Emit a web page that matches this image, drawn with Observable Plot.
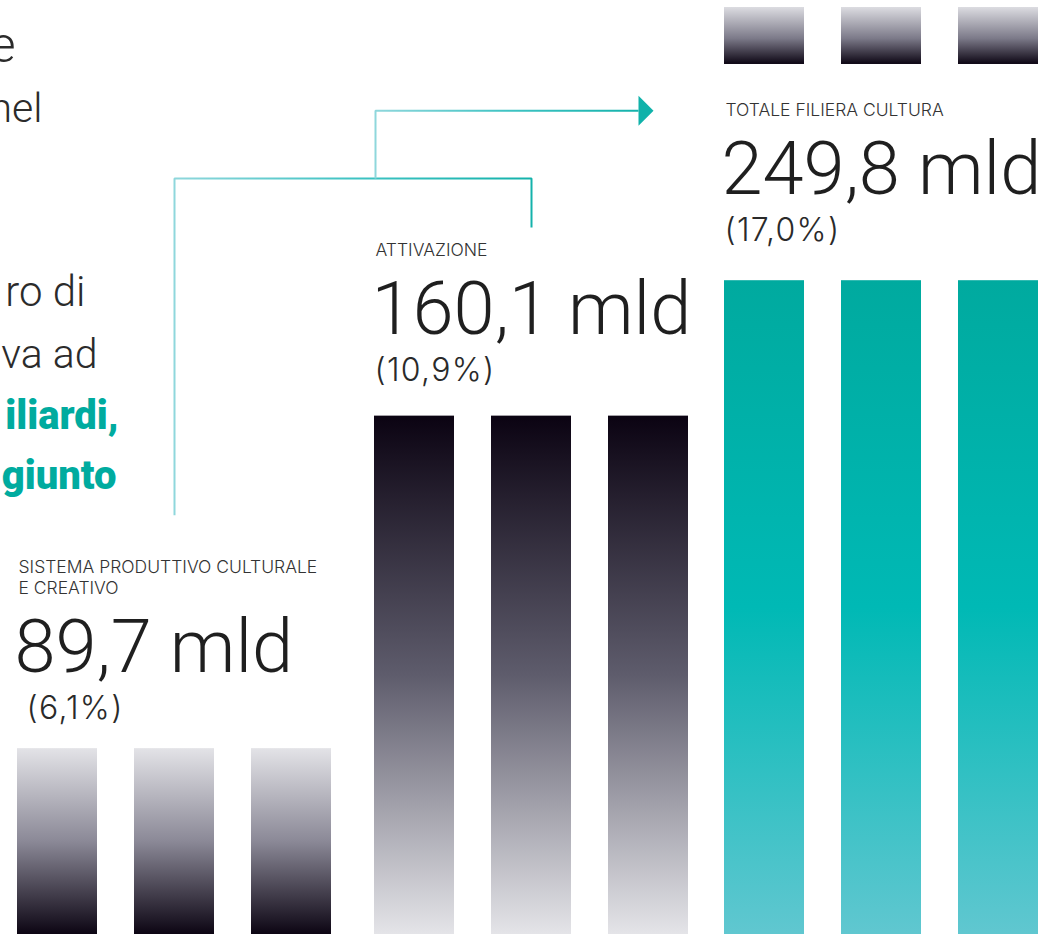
<!DOCTYPE html>
<html>
<head>
<meta charset="utf-8">
<script src="https://cdn.jsdelivr.net/npm/d3@7"></script>
<script src="https://cdn.jsdelivr.net/npm/@observablehq/plot@0.6"></script>
<style>
  html, body { margin: 0; padding: 0; background: #ffffff; overflow: hidden; }
  #chart svg { display: block; }
</style>
</head>
<body>
<div id="chart"></div>
<script>
// ---------- data ----------
const groupNames = ["SISTEMA PRODUTTIVO CULTURALE\nE CREATIVO", "ATTIVAZIONE", "TOTALE FILIERA CULTURA"];
const valueTexts = ["89,7 mld", "160,1 mld", "249,8 mld"];
const shareTexts = ["(6,1%)", "(10,9%)", "(17,0%)"];
// bar heights (display units: % of chart height)
const barHeights = [19.9, 55.5, 70.0];
// upper (grey) segment of the total column, display units
const capBase = [null, null, 93.15];
const capTop = [null, null, 99.25];
const barsPerGroup = 3;
// connector levels (display units)
const connectorLow = 44.9;     // start of the line under the first label
const connectorJoin = 80.95;   // horizontal joining first and second group
const connectorDrop = 75.7;    // end of the drop towards second group
const connectorTop = 88.2;     // arrow line towards total
// fragments of the body text at the left (cropped)
const introLines = [
  { text: "e", bold: false, size: 50 },
  { text: "nel", bold: false, size: 41 },
  { text: "ro di", bold: false, size: 42 },
  { text: "va ad", bold: false, size: 41 },
  { text: "iliardi,", bold: true, size: 40 },
  { text: "giunto", bold: true, size: 40 }
];

// ---------- layout (styling) ----------
const W = 1053, H = 934;
const SLOT = 117;                  // px per bar slot
const X0 = 17;                     // px of slot 0
const BAR_W = 80 / SLOT;
const groupNudge = [0, 6 / SLOT, 5 / SLOT];
const groupStart = g => g * 3 + groupNudge[g];
const groupCenter = g => groupStart(g) + (barsPerGroup - 1 + BAR_W) / 2;
const fills = ["url(#gSpcc)", "url(#gAttiv)", "url(#gTot)"];
const groupShift = [0, -5, -9.5];
const pctIndent = [9, 0, 0];
const introEnds = [15, 42, 85, 97, 118, 116];
const introBase = [61, 121, 305, 367, 428, 488];

const bars = groupNames.flatMap((name, g) =>
  d3.range(barsPerGroup).map(k => ({
    g, x1: groupStart(g) + k, x2: groupStart(g) + k + BAR_W, y1: 0, y2: barHeights[g]
  }))
);
const caps = groupNames.flatMap((name, g) =>
  capBase[g] == null ? [] : d3.range(barsPerGroup).map(k => ({
    g, x1: groupStart(g) + k, x2: groupStart(g) + k + BAR_W, y1: capBase[g], y2: capTop[g]
  }))
);
const lowerConnector = [
  { x: groupCenter(0), y: connectorLow },
  { x: groupCenter(0), y: connectorJoin },
  { x: groupCenter(1), y: connectorJoin },
  { x: groupCenter(1), y: connectorDrop }
];
const arrowEnd = groupStart(2) - 86 / SLOT;
const upperConnector = [
  { x: groupStart(1) + 1 / SLOT, y: connectorJoin },
  { x: groupStart(1) + 1 / SLOT, y: connectorTop },
  { x: arrowEnd, y: connectorTop }
];

const arrowHead = {
  draw(ctx) {
    ctx.moveTo(-7.5, -15);
    ctx.lineTo(7.5, 0);
    ctx.lineTo(-7.5, 15);
    ctx.closePath();
  }
};

const defs = () => {
  const d = d3.create("svg:defs");
  const grad = (id, stops, horizontal = false) => {
    const lg = d.append("linearGradient").attr("id", id)
      .attr("x1", 0).attr("y1", 0).attr("x2", horizontal ? 1 : 0).attr("y2", horizontal ? 0 : 1);
    stops.forEach(([o, c]) => lg.append("stop").attr("offset", o).attr("stop-color", c));
  };
  grad("gSpcc", [[0, "#e3e3e7"], [0.5, "#8b8997"], [1, "#0c0513"]]);
  grad("gAttiv", [[0, "#0b0312"], [0.5, "#5e5c6c"], [1, "#e4e4e8"]]);
  grad("gTot", [[0, "#00aa9f"], [0.5, "#00b9b5"], [1, "#60c7d0"]]);
  grad("gCap", [[0, "#dcdce1"], [0.55, "#7c7a89"], [1, "#0c0513"]]);
  grad("gLine", [[0, "#8fd7dc"], [0.5, "#3fc3c3"], [1, "#14b2ab"]], true);
  return d.node();
};

const textFont = "Roboto, 'Liberation Sans', sans-serif";
const smallFont = "Inter, Roboto, sans-serif";

const textMarks = groupNames.flatMap((name, g) => {
  const datum = [{ x: groupStart(g), y: barHeights[g] }];
  return [
    Plot.text(datum, {
      x: "x", y: "y", text: () => name, textAnchor: "start", lineAnchor: "bottom",
      dx: 1, dy: -155 + groupShift[g], lineHeight: 1.2,
      fontFamily: smallFont, fontWeight: 300, fontSize: 17.5, fill: "#333333"
    }),
    Plot.text(datum, {
      x: "x", y: "y", text: () => valueTexts[g], textAnchor: "start", lineAnchor: "bottom",
      dx: -3, dy: -77 + groupShift[g],
      fontFamily: textFont, fontWeight: 300, fontSize: 74, fill: "#1f1f1f"
    }),
    Plot.text(datum, {
      x: "x", y: "y", text: () => shareTexts[g], textAnchor: "start", lineAnchor: "bottom",
      dx: pctIndent[g], dy: -30 + groupShift[g],
      fontFamily: smallFont, fontWeight: 300, fontSize: 32, fill: "#2a2a2a"
    })
  ];
});

const introMarks = introLines.map((l, i) =>
  Plot.text([l], {
    text: d => d.text, frameAnchor: "top-left", textAnchor: "end", lineAnchor: "bottom",
    dx: introEnds[i], dy: introBase[i],
    fontFamily: textFont, fontWeight: l.bold ? 900 : 300, fontSize: l.size,
    fill: l.bold ? "#00ab9f" : "#2b2b2b"
  })
);

const chart = Plot.plot({
  width: W,
  height: H,
  margin: 0,
  x: { domain: [-X0 / SLOT, (W - X0) / SLOT], axis: null },
  y: { domain: [0, 100], axis: null },
  style: { background: "#ffffff" },
  marks: [
    defs,
    Plot.rectY(bars, { x1: "x1", x2: "x2", y1: "y1", y2: "y2", fill: d => fills[d.g] }),
    Plot.rectY(caps, { x1: "x1", x2: "x2", y1: "y1", y2: "y2", fill: "url(#gCap)" }),
    Plot.line(lowerConnector, { x: "x", y: "y", stroke: "url(#gLine)", strokeWidth: 2, strokeLinejoin: "miter", strokeLinecap: "butt" }),
    Plot.line(upperConnector, { x: "x", y: "y", stroke: "url(#gLine)", strokeWidth: 2, strokeLinejoin: "miter", strokeLinecap: "butt" }),
    Plot.dot([upperConnector[upperConnector.length - 1]], { x: "x", y: "y", symbol: arrowHead, r: 10, fill: "#10b2aa", stroke: "none", dx: 7.5 }),
    ...textMarks,
    ...introMarks
  ]
});
// slightly open tracking of the share labels, as in the original typography
d3.select(chart).selectAll("text")
  .filter(function () { return shareTexts.includes(this.textContent); })
  .style("letter-spacing", "1.3px");
document.getElementById("chart").appendChild(chart);
</script>
</body>
</html>
